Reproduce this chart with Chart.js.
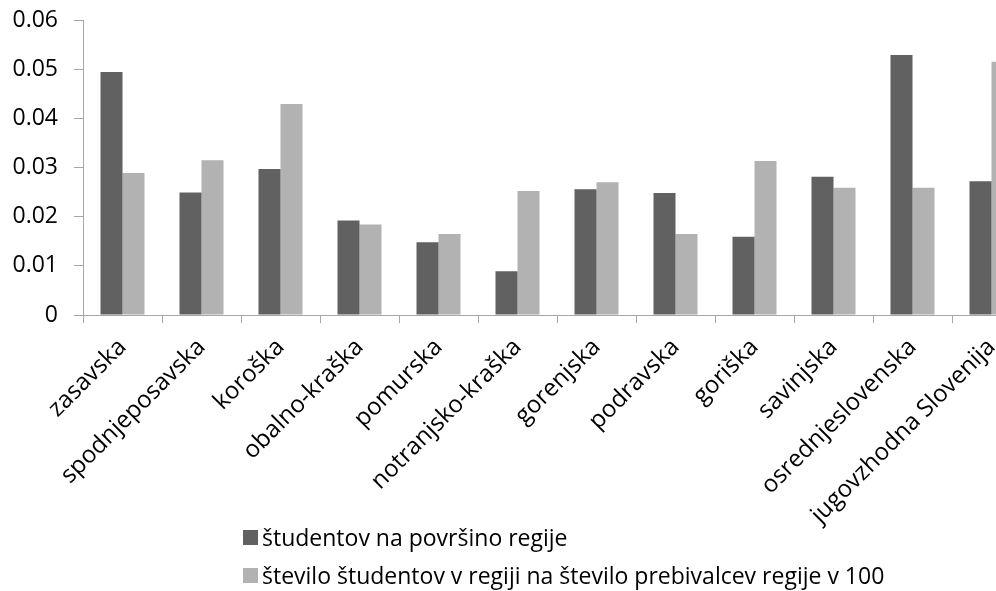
<!DOCTYPE html>
<html>
<head>
<meta charset="utf-8">
<script src="https://cdn.jsdelivr.net/npm/chart.js@4.4.0/dist/chart.umd.min.js"></script>
<style>
  html, body { margin: 0; padding: 0; background: #fff; overflow: hidden; width: 996px; height: 591px; }
  #wrap { position: absolute; left: 0; top: 0; width: 1040px; height: 545px; }
  #legend { position: absolute; left: 243px; top: 518px; font-family: "Open Sans", sans-serif; font-size: 23px; color: #000; }
  .item { display: flex; align-items: center; height: 38px; white-space: nowrap; }
  .box { width: 15px; height: 15px; margin-right: 4px; }
</style>
</head>
<body>
<div id="wrap"><canvas id="myChart"></canvas></div>
<div id="legend"></div>
<script>
// regions
const categories = ["zasavska", "spodnjeposavska", "koroška", "obalno-kraška", "pomurska",
  "notranjsko-kraška", "gorenjska", "podravska", "goriška", "savinjska",
  "osrednjeslovenska", "jugovzhodna Slovenija"];

const seriesNames = ["študentov na površino regije",
  "število študentov v regiji na število prebivalcev regije v 100"];

const studentsPerArea = [0.0494, 0.0249, 0.0297, 0.0192, 0.0148, 0.0089,
  0.0256, 0.0248, 0.0159, 0.0281, 0.0529, 0.0272];

const studentsPerPopulation = [0.0289, 0.0315, 0.0429, 0.0184, 0.0165, 0.0252,
  0.0270, 0.0165, 0.0313, 0.0259, 0.0259, 0.0515];

const yTickLabels = ["0", "0.01", "0.02", "0.03", "0.04", "0.05", "0.06"];

const colors = ["#616161", "#b2b2b2"];

document.addEventListener("DOMContentLoaded", function() {
  const ctx = document.getElementById("myChart").getContext("2d");
  const axisColor = "#a6a6a6";

  const myChart = new Chart(ctx, {
    type: "bar",
    data: {
      labels: categories,
      datasets: [
        { label: seriesNames[0], data: studentsPerArea, backgroundColor: colors[0] },
        { label: seriesNames[1], data: studentsPerPopulation, backgroundColor: colors[1] },
      ],
    },
    options: {
      responsive: true,
      maintainAspectRatio: false,
      animation: false,
      categoryPercentage: 0.557,
      barPercentage: 1.0,
      layout: { padding: { top: 20, right: 9, left: 0, bottom: 0 } },
      plugins: {
        legend: { display: false },
        tooltip: { enabled: false },
      },
      scales: {
        x: {
          grid: { display: true, drawOnChartArea: false, color: axisColor, tickLength: 8, offset: true },
          border: { color: axisColor, width: 1 },
          ticks: {
            font: { family: "'Open Sans', sans-serif", size: 24 },
            color: "#000", minRotation: 45, maxRotation: 45, autoSkip: false, padding: 10,
          },
          afterFit: function(scale) {
            scale.height = 230;
            scale.paddingLeft = 0;
            scale.paddingRight = 0;
          },
        },
        y: {
          min: 0,
          max: 0.06,
          grid: { display: true, drawOnChartArea: false, color: axisColor, tickLength: 9 },
          border: { color: axisColor, width: 1 },
          ticks: {
            stepSize: 0.01,
            font: { family: "'Open Sans', sans-serif", size: 23 },
            color: "#000",
            padding: 16,
            callback: function(value, index) { return yTickLabels[index]; },
          },
          afterFit: function(scale) {
            scale.width = 83;
            scale.paddingTop = 0;
            scale.paddingBottom = 0;
          },
        },
      },
    },
  });

  // legend built from the dataset labels
  const legend = document.getElementById("legend");
  myChart.data.datasets.forEach(function(ds) {
    const row = document.createElement("div");
    row.className = "item";
    const box = document.createElement("span");
    box.className = "box";
    box.style.background = ds.backgroundColor;
    const txt = document.createElement("span");
    txt.textContent = ds.label;
    row.appendChild(box);
    row.appendChild(txt);
    legend.appendChild(row);
  });
});
</script>
</body>
</html>
